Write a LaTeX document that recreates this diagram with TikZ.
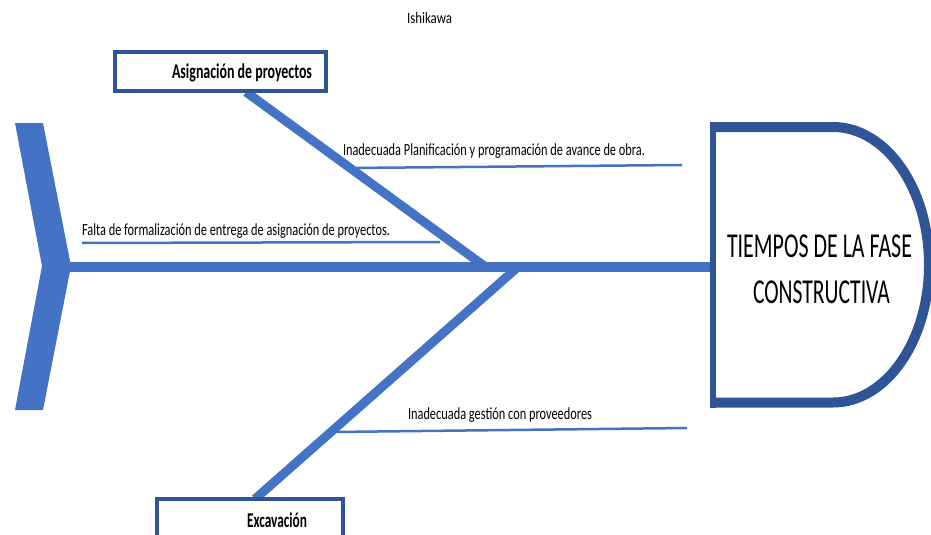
\documentclass[tikz,border=0pt]{standalone}
\usepackage{fontspec}
\setmainfont{Carlito}
\usepackage{graphicx}
\definecolor{fishblue}{HTML}{4472C4}
\definecolor{headblue}{HTML}{2F5597}
\newcommand{\fitw}[3]{\resizebox{#1}{\height}{\fontsize{#2}{#2}\selectfont #3}}
\begin{document}
\begin{tikzpicture}[x=1pt,y=-1pt,
  txt/.style={inner sep=0pt, outer sep=0pt, anchor=base west, text=black},
  branch/.style={fishblue, line width=9pt},
  sub/.style={fishblue, line width=2.5pt},
  catbox/.style={draw=headblue, line width=4pt, fill=white, inner sep=0pt, minimum width=186pt, minimum height=39pt}]
\useasboundingbox (0,0) rectangle (931,535);
\fill[white] (0,0) rectangle (931,535);

\node[txt] (title) at (407,24) {\fitw{45pt}{16}{Ishikawa}};

% tail of the fish
\fill[fishblue] (15,123) -- (43,123) -- (71,266) -- (43,410) -- (15,410) -- (42,266) -- cycle;
\coordinate (tail) at (68,267);
\coordinate (headL) at (712,267);
\draw[fishblue, line width=10pt] (tail) -- (headL);

% head
\draw[headblue, line width=10pt] (712,127) -- (833,127) arc[start angle=-90,end angle=90,x radius=96,y radius=137.75] -- (712,402.5);
\draw[headblue, line width=6pt] (712.5,122) -- (712.5,407.5);
\node[txt, anchor=base] (h1) at (819.5,257) {\fitw{185pt}{35}{TIEMPOS DE LA FASE}};
\node[txt, anchor=base] (h2) at (821.5,303) {\fitw{137pt}{35}{CONSTRUCTIVA}};

% branches
\coordinate (b1s) at (246,92);
\coordinate (b1e) at (487,268);
\coordinate (b2s) at (519,266);
\coordinate (b2e) at (255,499);
\draw[branch] (b1s) -- (b1e);
\draw[branch] (b2s) -- (b2e);

% category boxes
\node[catbox, minimum width=211pt] (asigbox) at (220.5,71.5) {};
\node[txt] (asig) at (172,78) {\fitw{140pt}{21}{\bfseries Asignación de proyectos}};
\node[catbox] (excbox) at (250,518.5) {};
\node[txt] (exc) at (247,527) {\fitw{60pt}{21}{\bfseries Excavación}};

% sub causes
\coordinate (s1a) at (350,168); \coordinate (s1b) at (682,165);
\draw[sub] (s1a) -- (s1b);
\node[txt] (c1) at (343,155) {\fitw{302pt}{17}{Inadecuada Planificación y programación de avance de obra.}};
\coordinate (s2a) at (82,243); \coordinate (s2b) at (440,242);
\draw[sub] (s2a) -- (s2b);
\node[txt] (c2) at (82,235) {\fitw{308pt}{17}{Falta de formalización de entrega de asignación de proyectos.}};
\coordinate (s3a) at (333,432); \coordinate (s3b) at (687,428);
\draw[sub] (s3a) -- (s3b);
\node[txt] (c3) at (408,419) {\fitw{184pt}{17}{Inadecuada gestión con proveedores}};
\end{tikzpicture}
\end{document}
